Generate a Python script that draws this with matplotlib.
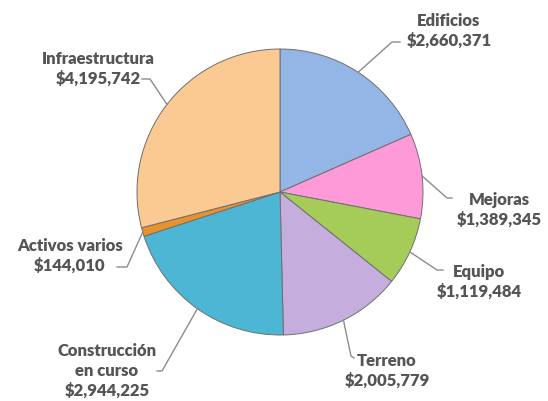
import numpy as np
import matplotlib
matplotlib.use("Agg")
import matplotlib.pyplot as plt

# data, clockwise from 12 o'clock
labels = ["Edificios", "Mejoras", "Equipo", "Terreno",
          "Construcción\nen curso", "Activos varios", "Infraestructura"]
values = [2660371, 1389345, 1119484, 2005779, 2944225, 144010, 4195742]
colors = ["#93B6E6", "#FF9AD8", "#A5CC58", "#C5AEDD",
          "#4DB6D5", "#E8922E", "#FBC992"]

# label layout in pixels (text block centre, elbow of leader line, end of leader)
text_px = [(449, 31), (499, 210), (479, 282), (387, 371),
           (107, 371), (70, 256), (98, 69)]
elbow_px = [(392, 43), (447, 199), (437, 271), (351, 357),
            (162, 372), (127, 268), (150, 80)]
end_px = [(400, 43), (452, 199), (443, 271), (354, 359),
          (157, 372), (117, 268), (142, 80)]

W, H = 548, 402
cx, cy, R = 280, 193, 143

fig = plt.figure(figsize=(W / 100, H / 100), dpi=100)
ax = fig.add_axes([(cx - R) / W, (H - cy - R) / H, 2 * R / W, 2 * R / H])

wedges, _ = ax.pie(values, colors=colors, startangle=90, counterclock=False,
                   radius=1, wedgeprops=dict(edgecolor="#6f6f6f", linewidth=0.7))
ax.set_xlim(-1, 1)
ax.set_ylim(-1, 1)
ax.axis("off")

def to_data(p):
    return ((p[0] - cx) / R, (cy - p[1]) / R)

txt_color = "#555555"
for w, lab, v, tp, ep, np_ in zip(wedges, labels, values, text_px, elbow_px, end_px):
    ang = np.deg2rad((w.theta1 + w.theta2) / 2)
    x0, y0 = np.cos(ang), np.sin(ang)
    ex, ey = to_data(ep)
    nx, ny = to_data(np_)
    ax.plot([x0, ex, nx], [y0, ey, ny], color="#8c8c8c", lw=1.0, clip_on=False)
    tx, ty = to_data(tp)
    ax.text(tx, ty, f"{lab}\n${v:,}", ha="center", va="center",
            fontsize=12, fontweight="heavy", family="Lato", color=txt_color,
            linespacing=1.3, clip_on=False)

fig.savefig("out.png", dpi=100)
